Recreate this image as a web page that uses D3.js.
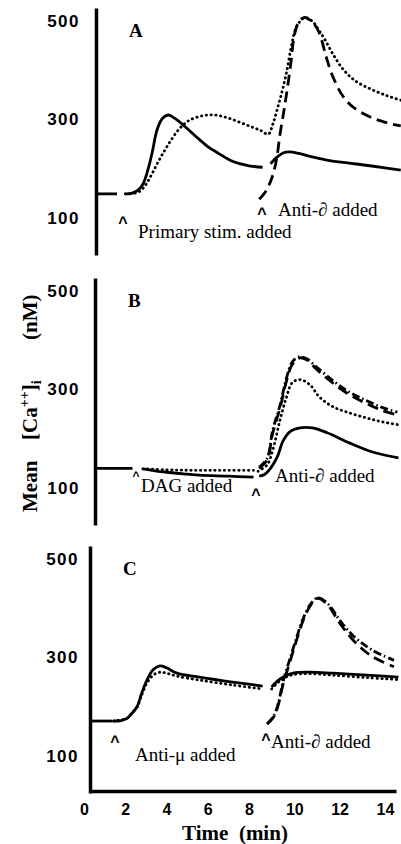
<html>
<head>
  <script src="https://cdn.jsdelivr.net/npm/d3@7"></script>
  <meta charset="utf-8">
  <title>Mean [Ca++]i</title>
<style>
body {
  margin: 0;
}
svg {
  background: #fff;
}
.curve {
  fill: none;
  stroke: #000;
  stroke-width: 2.8;
}
.note {
  font-family: "Liberation Serif", "Times New Roman", serif;
  font-size: 19px;
}
.caret {
  font-family: "Liberation Sans", Arial, sans-serif;
  font-weight: bold;
}
</style>
</head>
<body>
<script>
var width = 401,
    height = 844;

// time ticks (min) and calcium ticks (nM)
var timeTicks = [0, 2, 4, 6, 8, 10, 12, 14];
var caTicks = [100, 300, 500];

// panel A  [time, Ca]
var aBase = [[0.58, 149], [1.6, 149]];
var aSolid1 = [[2.0, 149], [2.3, 150], [2.6, 156], [2.85, 168], [3.1, 198], [3.3, 232], [3.55, 280], [3.8, 302], [4.1, 309], [4.4, 302], [4.8, 289], [5.2, 274], [5.6, 259], [6.0, 245], [6.45, 233], [7.2, 215], [8.0, 206], [8.6, 203]];
var aSolid2 = [[8.95, 210], [9.2, 222], [9.5, 232], [9.8, 234], [10.2, 231], [10.8, 224], [11.5, 217], [12.5, 211], [13.5, 205], [14.7, 197]];
var aDotted = [[2.0, 149], [2.4, 150], [2.7, 154], [3.0, 168], [3.3, 190], [3.7, 222], [4.1, 250], [4.6, 280], [5.1, 298], [5.7, 307], [6.3, 309], [6.9, 304], [7.5, 295], [8.1, 285], [8.5, 278], [8.85, 270], [9.05, 290], [9.2, 313], [9.4, 346], [9.65, 394], [9.9, 455], [10.1, 488], [10.45, 506], [10.8, 499], [11.1, 480], [11.35, 462], [11.7, 433], [12.15, 402], [12.7, 378], [13.4, 361], [14.1, 348], [14.7, 339]];
var aDashed = [[8.45, 138], [8.75, 155], [9.0, 180], [9.2, 215], [9.37, 270], [9.55, 320], [9.7, 365], [9.85, 415], [10.0, 470], [10.2, 498], [10.45, 507], [10.8, 497], [11.1, 476], [11.4, 428], [11.7, 387], [12.15, 347], [12.6, 325], [13.35, 305], [14.1, 293], [14.7, 287]];

// panel B
var bBase = [[0.55, 140], [2.35, 140]];
var bSolid1 = [[2.85, 139], [3.3, 136], [4.0, 132], [5.0, 128], [5.6, 126], [7.0, 124], [8.2, 122]];
var bDotted1 = [[2.85, 139], [4.0, 137], [5.0, 136], [6.0, 136], [7.0, 136], [8.2, 136]];
var bSolid2 = [[8.45, 124], [8.7, 128], [8.95, 140], [9.25, 163], [9.5, 195], [9.8, 214], [10.25, 222], [10.8, 222], [11.45, 212], [12.45, 191], [13.45, 173], [14.6, 161]];
var bDotted2 = [[8.4, 134], [8.8, 147], [9.05, 177], [9.37, 238], [9.66, 285], [9.9, 313], [10.25, 320], [10.7, 309], [11.1, 285], [11.7, 265], [12.45, 252], [13.2, 242], [13.9, 234], [14.65, 228]];
var bDashed = [[8.45, 140], [8.8, 157], [9.05, 212], [9.37, 262], [9.66, 318], [9.9, 350], [10.25, 364], [10.55, 360], [11.0, 340], [11.7, 313], [12.45, 289], [13.2, 271], [13.9, 257], [14.55, 248]];
var bDashDot = [[8.45, 142], [8.8, 160], [9.05, 218], [9.37, 268], [9.66, 324], [9.9, 355], [10.2, 366], [10.55, 362], [11.0, 345], [11.7, 318], [12.45, 294], [13.2, 277], [13.9, 263], [14.55, 254]];

// panel C
var cBase = [[0.3, 171], [1.36, 171]];
var cSolid1 = [[1.42, 171], [1.8, 172], [2.1, 177], [2.35, 188], [2.57, 200], [2.8, 228], [3.05, 254], [3.35, 275], [3.68, 283], [4.0, 279], [4.5, 268], [5.6, 260], [7.2, 250], [8.6, 242]];
var cDotted1 = [[1.42, 171], [2.1, 177], [2.35, 188], [2.57, 199], [2.8, 224], [3.05, 248], [3.35, 264], [3.68, 270], [4.0, 268], [4.5, 262], [5.6, 254], [7.2, 244], [8.6, 236]];
var cSolid2 = [[9.0, 240], [9.25, 252], [9.5, 260], [9.94, 268], [10.7, 270], [11.7, 268], [13.2, 264], [14.6, 260]];
var cDotted2 = [[9.0, 236], [9.25, 248], [9.5, 257], [9.94, 265], [10.7, 267], [11.7, 264], [13.2, 259], [14.6, 255]];
var cDashed = [[8.8, 165], [9.1, 180], [9.3, 205], [9.5, 245], [9.8, 290], [10.1, 335], [10.4, 376], [10.75, 408], [11.05, 420], [11.5, 405], [12.0, 370], [12.6, 335], [13.4, 303], [14.4, 281]];
var cDashDot = [[8.8, 165], [9.1, 182], [9.3, 208], [9.5, 250], [9.8, 296], [10.1, 340], [10.4, 380], [10.75, 410], [11.05, 421], [11.5, 408], [12.0, 376], [12.6, 344], [13.4, 316], [14.4, 294]];

var styles = {
  solid: null,
  dotted: '0.4 4.4',
  dashed: '11 6',
  dashdot: '8 3 1.5 3'
};

var panels = [
  { top: 0, axisX: 96, pad: 16, letter: 'A', lines: [
    [aBase, 'solid'], [aSolid1, 'solid'], [aSolid2, 'solid'], [aDotted, 'dotted'], [aDashed, 'dashed']] },
  { top: 270, axisX: 95, pad: 15, letter: 'B', lines: [
    [bBase, 'solid'], [bSolid1, 'solid'], [bDotted1, 'dotted'], [bSolid2, 'solid'], [bDotted2, 'dotted'], [bDashed, 'dashed'], [bDashDot, 'dashdot']] },
  { top: 538, axisX: 90, pad: 11, letter: 'C', lines: [
    [cBase, 'solid'], [cSolid1, 'solid'], [cDotted1, 'dotted'], [cSolid2, 'solid'], [cDotted2, 'dotted'], [cDashed, 'dashed'], [cDashDot, 'dashdot']] }
];

var svg = d3.select('body').append('svg')
  .attr('width', width)
  .attr('height', height);

// time axis has a small change of spacing after the 8 min break
var x = d3.scaleLinear()
  .domain([0.29, 8, 14.49])
  .range([90, 249, 396]);

panels.forEach(function (p) {
  var y = d3.scaleLinear()
    .domain([25, 526])
    .range([p.top + 255, p.top + 8]);

  var ax = svg.append('g')
    .attr('transform', 'translate(' + p.axisX + ',0)')
    .call(d3.axisLeft(y).tickValues(caTicks).tickSize(0).tickPadding(p.pad));
  ax.select('.domain').attr('stroke-width', 3.5);
  ax.selectAll('text')
    .attr('font-family', '"Liberation Sans", Arial, sans-serif')
    .attr('font-weight', 'bold')
    .attr('font-size', 17)
    .style('letter-spacing', '1.5px');

  var line = d3.line()
    .x(function (d) { return x(d[0]); })
    .y(function (d) { return y(d[1]); })
    .curve(d3.curveCatmullRom);

  p.lines.forEach(function (l) {
    svg.append('path')
      .attr('class', 'curve')
      .attr('d', line(l[0]))
      .attr('stroke-linecap', l[1] === 'dotted' ? 'round' : 'butt')
      .attr('stroke-dasharray', styles[l[1]]);
  });

  svg.append('text')
    .attr('x', p.axisX + 33)
    .attr('y', p.top + 37)
    .attr('font-family', '"Liberation Serif", "Times New Roman", serif')
    .attr('font-weight', 'bold')
    .attr('font-size', 19)
    .text(p.letter);
});

// time axis under panel C
var xa = svg.append('g')
  .attr('transform', 'translate(0,791)')
  .call(d3.axisBottom(x).tickValues(timeTicks).tickSize(0).tickPadding(13).tickSizeOuter(0));
xa.select('.domain').attr('stroke-width', 3.5);
xa.selectAll('text')
  .attr('font-family', '"Liberation Sans", Arial, sans-serif')
  .attr('font-weight', 'bold')
  .attr('font-size', 16);

// annotations
var carets = [[123, 227.5, 16], [262, 218.5, 16], [136, 480, 12], [256, 499.5, 16], [115, 746.5, 16], [266, 744.5, 16]];
svg.selectAll('.caret')
  .data(carets)
  .enter()
  .append('text')
  .attr('class', 'caret')
  .attr('x', function (d) { return d[0]; })
  .attr('y', function (d) { return d[1]; })
  .attr('font-size', function (d) { return d[2]; })
  .attr('text-anchor', 'middle')
  .text('^');

var notes = [
  [138, 238, 'Primary stim. added'],
  [278, 216, 'Anti-\u2202 added'],
  [141, 492, 'DAG added'],
  [275, 482, 'Anti-\u2202 added'],
  [135, 761, 'Anti-\u03bc added'],
  [271, 748, 'Anti-\u2202 added']
];
svg.selectAll('.note')
  .data(notes)
  .enter()
  .append('text')
  .attr('class', 'note')
  .attr('x', function (d) { return d[0]; })
  .attr('y', function (d) { return d[1]; })
  .text(function (d) { return d[2]; });

// axis titles
svg.append('text')
  .attr('x', 235)
  .attr('y', 840)
  .attr('text-anchor', 'middle')
  .attr('font-family', '"Liberation Serif", "Times New Roman", serif')
  .attr('font-weight', 'bold')
  .attr('font-size', 21)
  .style('white-space', 'pre')
  .text('Time  (min)');

var yl = svg.append('g')
  .attr('transform', 'translate(37,0) rotate(-90)')
  .attr('font-family', '"Liberation Serif", "Times New Roman", serif')
  .attr('font-weight', 'bold')
  .attr('font-size', 21);
yl.append('text').attr('x', -512).attr('y', 0).text('Mean');
var ca = yl.append('text').attr('x', -440).attr('y', 0);
ca.append('tspan').text('[Ca');
ca.append('tspan').attr('font-size', 14).attr('dy', -8).text('++');
ca.append('tspan').attr('dy', 8).text(']');
ca.append('tspan').attr('font-size', 14).attr('dy', 4).text('i');
yl.append('text').attr('x', -340).attr('y', 0).text('(nM)');

</script>
</body>
</html>
